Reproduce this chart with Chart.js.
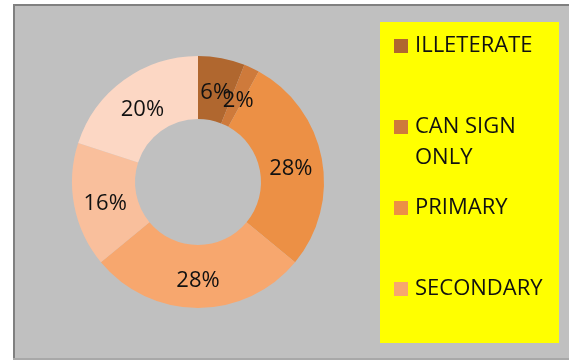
<!DOCTYPE html>
<html>
<head>
<meta charset="utf-8">
<script src="https://cdn.jsdelivr.net/npm/chart.js@4"></script>
<style>
  html, body { margin: 0; padding: 0; background: #ffffff; }
  #wrap { width: 569px; height: 360px; }
</style>
</head>
<body>
<div id="wrap"><canvas id="eduChart" width="569" height="360"></canvas></div>
<script>
// education level shares (percent)
const categories = ['ILLETERATE', 'CAN SIGN ONLY', 'PRIMARY', 'SECONDARY', 'GRADUATE', 'POST GRADUATE'];
const values = [6, 2, 28, 28, 16, 20];
const colors = ['#B0672F', '#CE7A3B', '#EC9045', '#F7A76E', '#F9BF9C', '#FCD7C4'];
// only the first four show in the legend box
const legendLines = [['ILLETERATE'], ['CAN SIGN', 'ONLY'], ['PRIMARY'], ['SECONDARY']];
const legendY = [46, 127, 208, 289];

const FONT = '"Open Sans", "Liberation Sans", sans-serif';

// gray panel behind everything
const panelPlugin = {
    id: 'panel',
    beforeDraw(chart) {
        const ctx = chart.ctx;
        ctx.save();
        ctx.fillStyle = '#C0C0C0';
        ctx.fillRect(13, 4, 556, 356);
        ctx.fillStyle = '#808080';
        ctx.fillRect(13, 4, 556, 2);
        ctx.fillRect(13, 4, 2, 356);
        ctx.fillStyle = '#A8A8A8';
        ctx.fillRect(13, 358, 556, 2);
        // legend box
        ctx.fillStyle = '#FFFF00';
        ctx.fillRect(380, 22, 179, 321);
        ctx.restore();
    }
};

// percent labels inside slices + custom legend
const labelPlugin = {
    id: 'labels',
    afterDraw(chart) {
        const ctx = chart.ctx;
        const meta = chart.getDatasetMeta(0);
        ctx.save();
        ctx.font = '22px ' + FONT;
        ctx.fillStyle = '#111111';
        ctx.textAlign = 'center';
        ctx.textBaseline = 'middle';
        meta.data.forEach((arc, i) => {
            const p = arc.tooltipPosition();
            ctx.fillText(values[i] + '%', p.x, p.y + 4);
        });

        // legend
        ctx.textAlign = 'left';
        legendLines.forEach((lines, i) => {
            const y = legendY[i];
            ctx.fillStyle = colors[i];
            ctx.fillRect(394, y - 7, 14, 14);
            ctx.fillStyle = '#111111';
            lines.forEach((t, j) => {
                ctx.fillText(t, 415, y + j * 31);
            });
        });
        ctx.restore();
    }
};

const ctx = document.getElementById('eduChart').getContext('2d');
const eduChart = new Chart(ctx, {
    type: 'doughnut',
    data: {
        labels: categories,
        datasets: [{
            data: values,
            backgroundColor: colors,
            borderWidth: 0
        }]
    },
    options: {
        responsive: false,
        animation: false,
        cutout: '50%',
        layout: {
            padding: { left: 72, right: 245, top: 56, bottom: 52 }
        },
        plugins: {
            legend: { display: false },
            tooltip: { enabled: false }
        }
    },
    plugins: [panelPlugin, labelPlugin]
});
</script>
</body>
</html>
